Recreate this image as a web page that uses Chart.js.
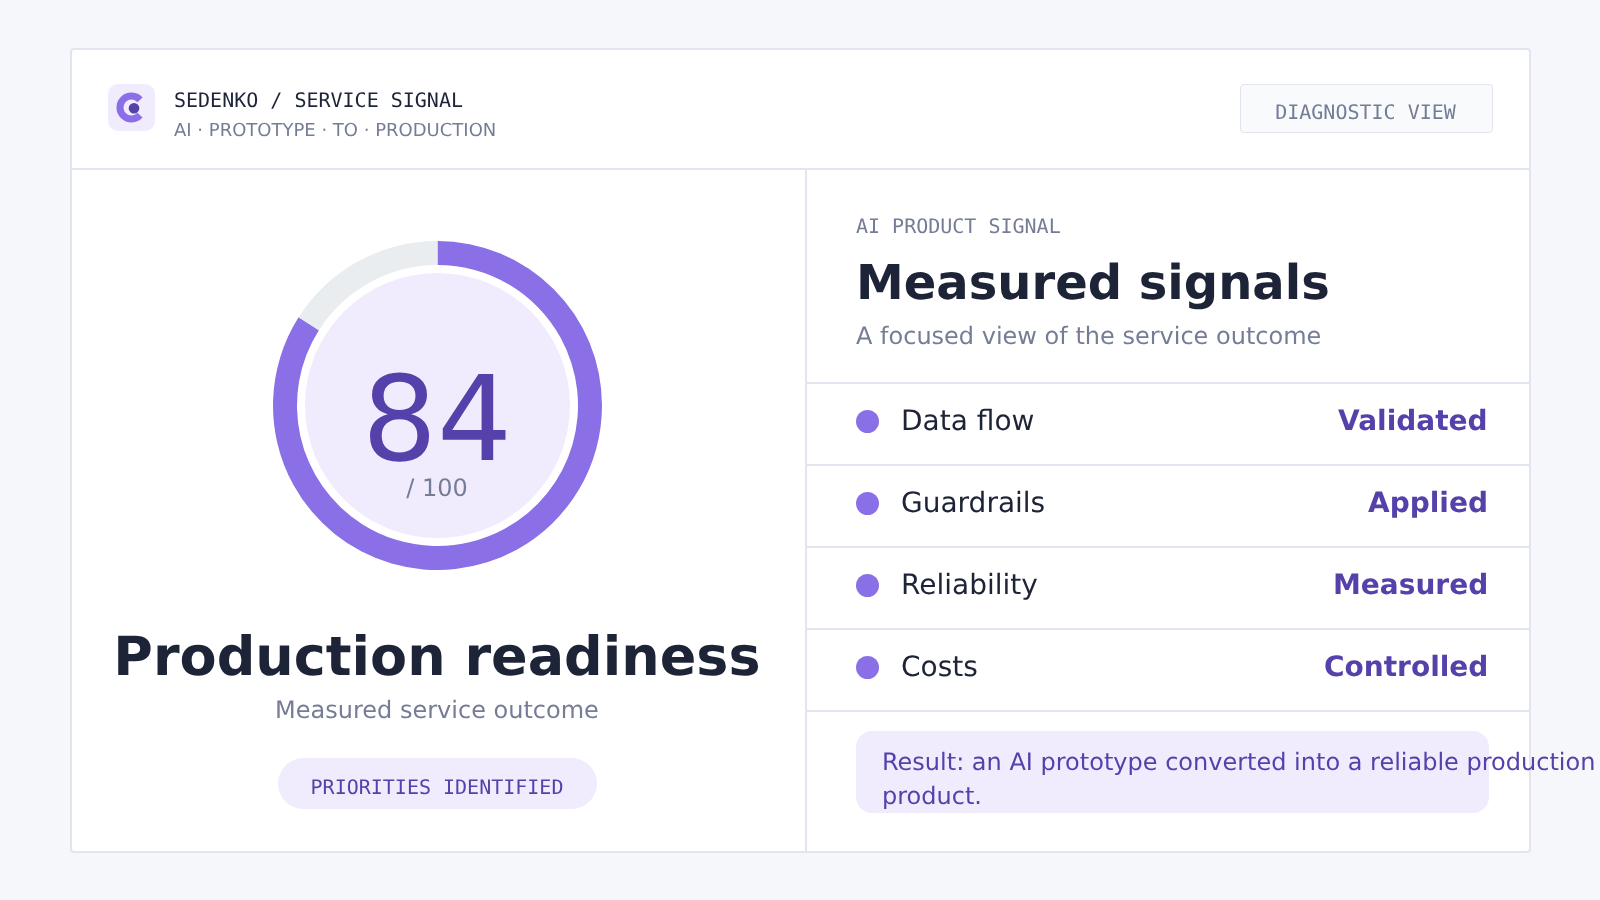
<!DOCTYPE html>
<html>
<head>
<meta charset="utf-8">
<script src="https://cdn.jsdelivr.net/npm/chart.js@4"></script>
<style>
html,body{margin:0;height:900px;width:1600px;overflow:hidden;background:#f6f7fb;font-family:'DejaVu Sans',sans-serif;text-rendering:geometricPrecision}
.abs,.t{position:absolute}
.t{line-height:1;white-space:nowrap;will-change:transform}
.mono{font-family:'DejaVu Sans Mono',monospace;font-size:20px}
.c{left:71px;width:732px;text-align:center}
.hr{position:absolute;left:807px;width:722px;height:2px;background:#e2e4ef}
</style>
</head>
<body>
<div class="abs" style="left:70px;top:48px;width:1457px;height:801px;background:#fff;border:2px solid #e2e4ef;border-radius:4px"></div>
<div class="abs" style="left:72px;top:168px;width:1457px;height:2px;background:#e2e4ef"></div>
<div class="abs" style="left:805px;top:170px;width:2px;height:681px;background:#e2e4ef"></div>

<div class="abs" style="left:108px;top:84px;width:47px;height:47px;background:#f0ecfd;border-radius:10px"></div>
<svg class="abs" style="left:108px;top:84px" width="48" height="48">
  <path d="M32 15.8 A11.5 11.5 0 1 0 32 31.2" fill="none" stroke="#8b6fe6" stroke-width="7"/>
  <circle cx="26" cy="24.3" r="5.3" fill="#5640aa"/>
</svg>
<div class="t mono" style="left:174px;top:90px;color:#1e2438">SEDENKO / SERVICE SIGNAL</div>
<div class="t" style="left:174px;top:122px;font-size:18px;color:#757d96">AI · PROTOTYPE · TO · PRODUCTION</div>
<div class="abs" style="left:1240px;top:84px;width:251px;height:47px;background:#f8fafc;border:1px solid #e2e4ef;border-radius:4px"></div>
<div class="t mono" style="left:1239px;width:253px;text-align:center;top:102px;color:#757d96">DIAGNOSTIC VIEW</div>

<div class="abs" style="left:305px;top:273px;width:265px;height:265px;background:#f0ecfd;border-radius:50%"></div>
<div class="abs" style="left:273px;top:241px;width:329px;height:329px"><canvas id="ring" width="329" height="329"></canvas></div>
<div class="t c" style="top:360px;font-size:118px;color:#5640aa">84</div>
<div class="t c" style="top:476px;font-size:24px;color:#757d96">/ 100</div>
<div class="t c" style="top:630px;font-size:54px;font-weight:bold;color:#1e2438">Production readiness</div>
<div class="t c" style="top:698px;font-size:24px;color:#757d96">Measured service outcome</div>
<div class="abs" style="left:278px;top:758px;width:319px;height:51px;background:#f0ecfd;border-radius:26px"></div>
<div class="t mono c" style="top:777px;color:#5640aa">PRIORITIES IDENTIFIED</div>

<div class="t mono" style="left:856px;top:216px;color:#757d96">AI PRODUCT SIGNAL</div>
<div class="t" style="left:856px;top:259px;font-size:48px;font-weight:bold;color:#1e2438">Measured signals</div>
<div class="t" style="left:856px;top:324px;font-size:24px;color:#757d96">A focused view of the service outcome</div>
<div id="rows"></div>
<div class="abs" style="left:856px;top:731px;width:633px;height:82px;background:#f0ecfd;border-radius:16px"></div>
<div class="t" id="res1" style="left:882px;top:750px;font-size:24px;color:#5640aa"></div>
<div class="t" id="res2" style="left:882px;top:784px;font-size:24px;color:#5640aa"></div>

<script>
const score = [84, 16];
const ringColors = ['#8b6fe6', '#e9edf0'];
const signalNames = ['Data flow', 'Guardrails', 'Reliability', 'Costs'];
const signalStates = ['Validated', 'Applied', 'Measured', 'Controlled'];
const resultLines = ['Result: an AI prototype converted into a reliable production', 'product.'];

const ctx = document.getElementById('ring').getContext('2d');
const ring = new Chart(ctx, {
    type: 'doughnut',
    data: {
        labels: ['Score', 'Remaining'],
        datasets: [{ data: score, backgroundColor: ringColors, borderWidth: 0 }]
    },
    options: {
        responsive: false,
        animation: false,
        cutout: 140.5,
        plugins: { legend: { display: false }, tooltip: { enabled: false } }
    }
});

// signal rows
const rows = document.getElementById('rows');
let html = '<div class="hr" style="top:382px"></div>';
signalNames.forEach((name, i) => {
    const top = 382 + i * 82;
    html += '<div class="abs" style="left:856px;top:' + (top + 28) + 'px;width:23px;height:23px;border-radius:50%;background:#8b6fe6"></div>';
    html += '<div class="t" style="left:901px;top:' + (top + 25) + 'px;font-size:28px;color:#1e2438">' + name + '</div>';
    html += '<div class="t" style="right:112px;top:' + (top + 25) + 'px;font-size:28px;font-weight:bold;color:#5640aa">' + signalStates[i] + '</div>';
    html += '<div class="hr" style="top:' + (top + 82) + 'px"></div>';
});
rows.innerHTML = html;
document.getElementById('res1').textContent = resultLines[0];
document.getElementById('res2').textContent = resultLines[1];
</script>
</body>
</html>
